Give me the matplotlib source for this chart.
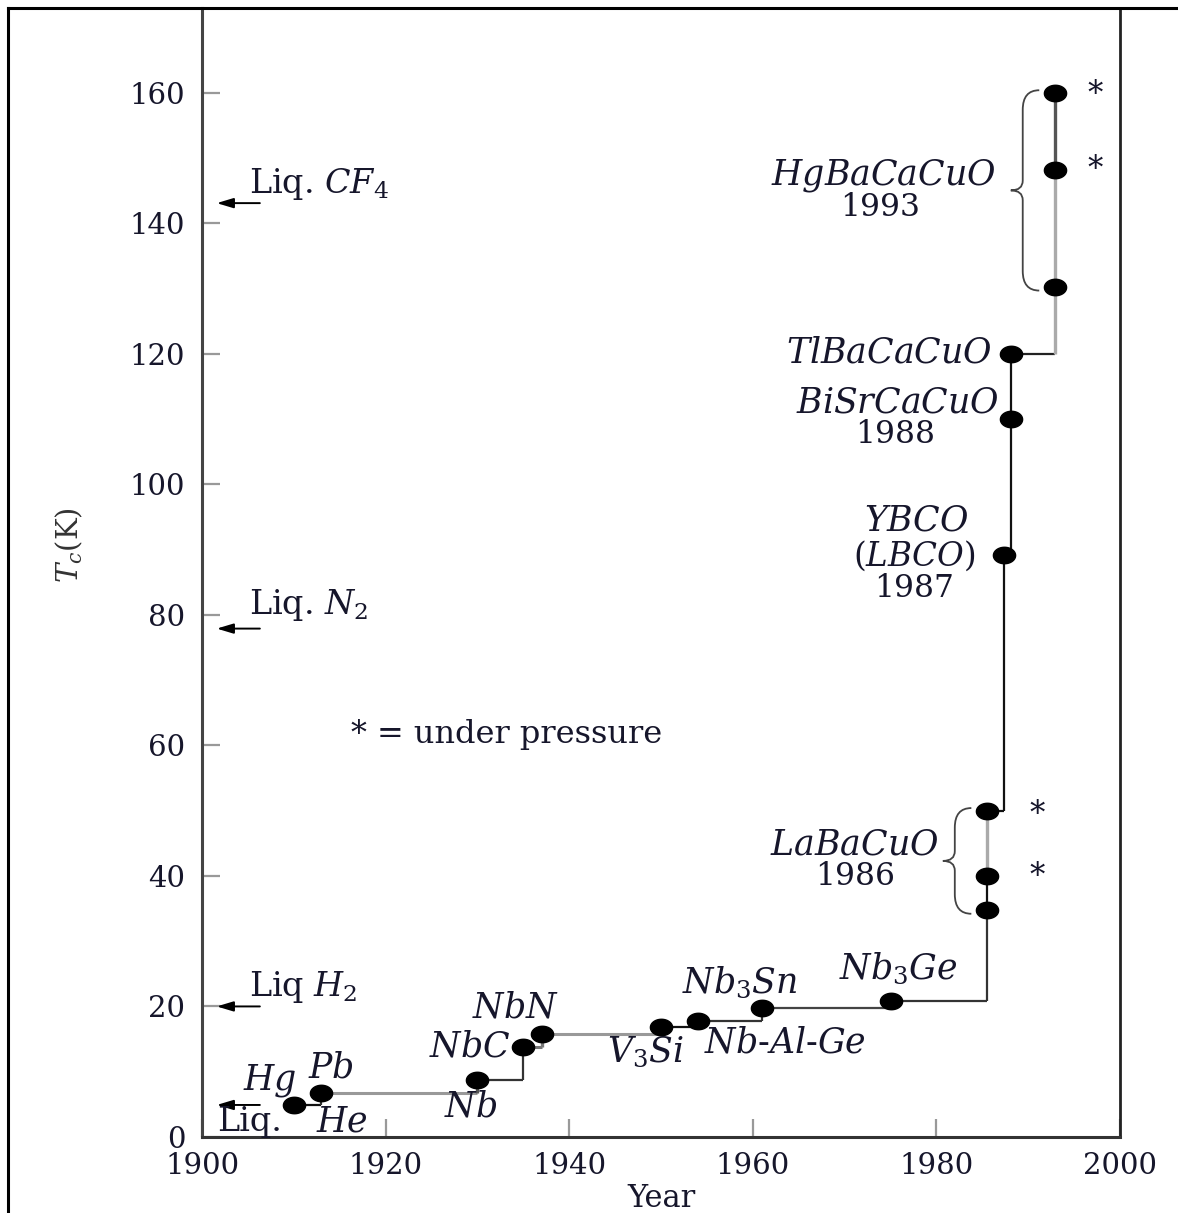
import numpy as np
import matplotlib.pyplot as plt
from matplotlib.path import Path
from matplotlib.patches import PathPatch
from matplotlib.lines import Line2D

plt.rcParams['font.family'] = ['DejaVu Serif']
plt.rcParams['mathtext.fontset'] = 'dejavuserif'

ink = '#16162b'

# record Tc vs year
years = [1910, 1913, 1930, 1935, 1937, 1950, 1954, 1961, 1975,
         1985.5, 1985.5, 1985.5, 1987.4, 1988.1, 1988.1, 1992.9, 1992.9, 1992.9]
tc = [4.9, 6.7, 8.7, 13.8, 15.8, 16.9, 17.8, 19.8, 20.8,
      34.8, 40.0, 50.0, 89.2, 110.0, 120.0, 130.3, 148.2, 160.0]

# colour of horizontal / vertical part of each step
h_col = ['#111', '#999', '#333', '#777', '#999', '#111', '#333', '#444', '#333',
         '#111', '#999', '#111', '#111', '#111', '#222', '#999', '#222']
v_col = ['#333', '#555', '#333', '#777', '#555', '#111', '#333', '#444', '#333',
         '#111', '#aaa', '#111', '#111', '#111', '#aaa', '#aaa', '#555']

# cooling liquids
liq_names = ['Liq. $CF_4$', 'Liq. $N_2$', 'Liq $H_2$']
liq_temp = [143.1, 77.9, 20.0, 4.9]

# under pressure groups (year, low, high)
brace_groups = [(1992.9, 130.3, 160.0), (1985.5, 34.8, 50.0)]
stars = [(1997.3, 159.8), (1997.3, 148.2), (1991.0, 49.4), (1991.0, 39.9)]

# labels: text, x, y, size
labels = [
    ('$Hg$', 1907.4, 8.7, 25),
    ('$Pb$', 1914.0, 10.6, 25),
    ('$He$', 1915.2, 2.3, 25),
    ('$Nb$', 1929.2, 4.6, 25),
    ('$NbC$', 1929.2, 13.8, 25),
    ('$NbN$', 1934.1, 19.8, 25),
    ('$V_3Si$', 1948.3, 13.0, 25),
    ('$Nb$-$Al$-$Ge$', 1963.5, 14.4, 25),
    ('$Nb_3Sn$', 1958.6, 23.6, 25),
    ('$Nb_3Ge$', 1975.8, 25.8, 25),
    ('$LaBaCuO$', 1971.1, 44.8, 25),
    ('1986', 1971.1, 39.9, 22.5),
    ('$YBCO$', 1977.8, 94.4, 25),
    ('$(LBCO)$', 1977.6, 89.1, 23.5),
    ('1987', 1977.6, 84.0, 22.5),
    ('$BiSrCaCuO$', 1975.8, 112.5, 25),
    ('1988', 1975.5, 107.6, 22.5),
    ('$TlBaCaCuO$', 1974.9, 120.2, 25),
    ('$HgBaCaCuO$', 1974.2, 147.4, 25),
    ('1993', 1973.9, 142.4, 22.5),
]

fig = plt.figure(figsize=(11.78, 12.13), dpi=100)
ax = fig.add_axes([0.1715, 0.0627, 0.7793, 0.9307])
ax.set_xlim(1900, 2000)
ax.set_ylim(0, 173.0)

# step line
for i in range(len(years) - 1):
    x0, x1, y0, y1 = years[i], years[i + 1], tc[i], tc[i + 1]
    hw = 2.2 if h_col[i] in ('#999', '#aaa', '#777') else 1.6
    vw = 2.4 if v_col[i] in ('#999', '#aaa', '#777', '#555') else 1.6
    ax.plot([x0, x1], [y0, y0], color=h_col[i], lw=hw, solid_capstyle='butt', zorder=3)
    ax.plot([x1, x1], [y0, y1], color=v_col[i], lw=vw, solid_capstyle='butt', zorder=3)

t = np.linspace(0, 2 * np.pi, 60)
ell = Path(np.column_stack([1.35 * np.cos(t), np.sin(t)]), closed=True)
ax.plot(years, tc, ls='none', marker=ell, ms=16, color='black', zorder=5)

# braces
def brace(ax, x, lo, hi):
    xe, xs, xt = x - 1.7, x - 3.5, x - 4.8
    lo, hi = lo - 0.6, hi + 0.4
    ym = (lo + hi) / 2
    verts = [(xe, hi), (xs, hi), (xs, hi - 3),
             (xs, ym + 1.5), (xs, ym), (xt, ym),
             (xs, ym), (xs, ym - 1.5),
             (xs, lo + 3), (xs, lo), (xe, lo)]
    codes = [Path.MOVETO, Path.CURVE3, Path.CURVE3,
             Path.LINETO, Path.CURVE3, Path.CURVE3,
             Path.CURVE3, Path.CURVE3,
             Path.LINETO, Path.CURVE3, Path.CURVE3]
    ax.add_patch(PathPatch(Path(verts, codes), fill=False, ec='#444', lw=1.3, zorder=2))

for g in brace_groups:
    brace(ax, *g)

for sx, sy in stars:
    ax.text(sx, sy, '*', fontsize=22, color=ink, ha='center', va='center')

for txt, x, y, fs in labels:
    ax.text(x, y, txt, fontsize=fs, color=ink, ha='center', va='center')

# cooling liquid arrows
for temp in liq_temp:
    ax.annotate('', xy=(1901.6, temp), xytext=(1906.3, temp),
                arrowprops=dict(arrowstyle='-|>,head_length=1.0,head_width=0.3',
                                color='black', lw=1.4, shrinkA=0, shrinkB=0))
ax.text(1905.1, 146.1, liq_names[0], fontsize=24, color=ink, va='center')
ax.text(1905.1, 81.5, liq_names[1], fontsize=24, color=ink, va='center')
ax.text(1905.1, 23.0, liq_names[2], fontsize=24, color=ink, va='center')
ax.text(1901.6, 2.3, 'Liq.', fontsize=24, color=ink, va='center')

ax.text(1933.2, 61.6, '* = under pressure', fontsize=23, color=ink, ha='center', va='center')

ax.set_xticks(np.arange(1900, 2001, 20))
ax.set_yticks(np.arange(0, 161, 20))
ax.tick_params(direction='in', length=13, width=1.6, color='#999',
               labelsize=21, labelcolor=ink, pad=12)
ax.tick_params(axis='x', pad=11)

ax.set_ylabel('$T_c$(K)', fontsize=21, color='#333')
ax.yaxis.set_label_coords(-0.127, 0.524)
ax.set_xlabel('Year', fontsize=22, color=ink)
ax.xaxis.set_label_coords(0.501, -0.041)

ax.spines['top'].set_visible(False)
ax.spines['left'].set_color('#444')
ax.spines['left'].set_linewidth(2.2)
ax.spines['bottom'].set_color('#333')
ax.spines['bottom'].set_linewidth(2.2)
ax.spines['right'].set_color('#222')
ax.spines['right'].set_linewidth(2.0)

# outer frame (left and top)
fig.add_artist(Line2D([0.0068, 0.0068], [0, 0.9934], transform=fig.transFigure, color='black', lw=2.2))
fig.add_artist(Line2D([0.0068, 1], [0.9934, 0.9934], transform=fig.transFigure, color='black', lw=2.2))

fig.savefig('out.png', dpi=100)
